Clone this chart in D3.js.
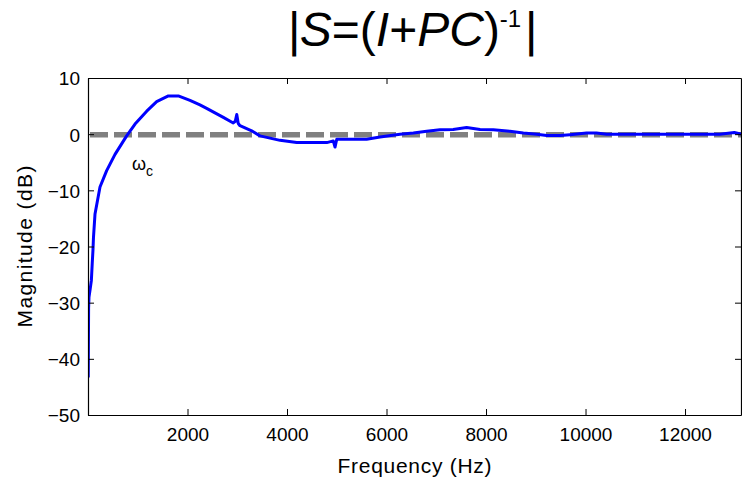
<!DOCTYPE html>
<html>
<head>
<meta charset="utf-8">
<script src="https://cdn.jsdelivr.net/npm/d3@7"></script>
<style>
  html, body { margin: 0; padding: 0; background: #fff; }
  svg { display: block; font-family: "Liberation Sans", Arial, Helvetica, sans-serif; }
</style>
</head>
<body>
<svg id="chart" width="742" height="481"></svg>
<script>
// ---- data ----
const freqHz = [5, 8, 12, 20, 45, 68, 85, 100, 110, 141, 241, 375, 543, 777, 945, 1180, 1380, 1615, 1815,
  2050, 2250, 2385, 2720, 2920, 2960, 2990, 3020, 3055, 3290, 3457, 3860, 4195, 4800, 4930, 4965, 5000,
  5266, 5600, 5870, 6270, 6540, 6808, 7075, 7340, 7610, 7880, 8146, 8480, 8750, 9020, 9220, 9490, 9690,
  10020, 10220, 10425, 10960, 11630, 12290, 12700, 12990, 13125];
const magDb = [-43.3, -38, -31, -29, -27.5, -26, -23, -20.6, -18.4, -14.2, -9.4, -6.5, -3.6, -0.3, 1.8, 4.1, 5.8, 6.8, 6.8,
  6.0, 5.2, 4.6, 3.0, 2.0, 2.3, 3.5, 1.9, 1.5, 0.6, -0.3, -1.1, -1.5, -1.5, -1.2, -2.3, -0.9,
  -0.9, -0.9, -0.5, 0.0, 0.2, 0.5, 0.8, 0.85, 1.2, 0.85, 0.8, 0.5, 0.2, 0.0, -0.25, -0.25, -0.1,
  0.2, 0.2, 0.0, 0.0, 0.0, 0.0, 0.0, 0.3, 0.0];
const refLevelDb = [0];
const xTicks = [2000, 4000, 6000, 8000, 10000, 12000];
const yTicks = [-50, -40, -30, -20, -10, 0, 10];
const xDomain = [0, 13125];
const yDomain = [-50, 10];

// ---- layout ----
const svg = d3.select("#chart");
const L = 88, R = 741, T = 78, B = 415;
const x = d3.scaleLinear().domain(xDomain).range([L, R]);
const y = d3.scaleLinear().domain(yDomain).range([B, T]);

svg.append("clipPath").attr("id", "clip")
  .append("rect").attr("x", L).attr("y", T).attr("width", R - L).attr("height", B - T);

// dashed reference line
svg.append("g").attr("clip-path", "url(#clip)")
  .selectAll("line.ref").data(refLevelDb).join("line")
  .attr("x1", x(xDomain[0]) + 2).attr("x2", R)
  .attr("y1", d => y(d) + 0.6).attr("y2", d => y(d) + 0.6)
  .attr("stroke", "#808080").attr("stroke-width", 5.5)
  .attr("stroke-dasharray", "18,6");

// curve
const pts = freqHz.map((f, i) => [f, magDb[i]]);
svg.append("path").attr("clip-path", "url(#clip)")
  .datum(pts)
  .attr("d", d3.line().x(d => x(d[0])).y(d => y(d[1])))
  .attr("fill", "none").attr("stroke", "#0000ff").attr("stroke-width", 3)
  .attr("stroke-linejoin", "round");

// axes (MATLAB box style, ticks inward)
const tickLen = 6;
const axB = svg.append("g").attr("transform", `translate(0,${B})`)
  .call(d3.axisBottom(x).tickValues(xTicks).tickSizeInner(-tickLen).tickSizeOuter(0).tickFormat(d3.format("d")));
const axT = svg.append("g").attr("transform", `translate(0,${T})`)
  .call(d3.axisTop(x).tickValues(xTicks).tickSizeInner(-tickLen).tickSizeOuter(0).tickFormat(""));
const axL = svg.append("g").attr("transform", `translate(${L},0)`)
  .call(d3.axisLeft(y).tickValues(yTicks).tickSizeInner(-tickLen).tickSizeOuter(0).tickFormat(d3.format("d")));
const axR = svg.append("g").attr("transform", `translate(${R},0)`)
  .call(d3.axisRight(y).tickValues(yTicks).tickSizeInner(-tickLen).tickSizeOuter(0).tickFormat(""));

[axB, axT, axL, axR].forEach(g => {
  g.selectAll("path.domain").attr("stroke", "#000").attr("stroke-width", 1.2);
  g.selectAll(".tick line").attr("stroke", "#000").attr("stroke-width", 1);
  g.selectAll(".tick text").attr("fill", "#000").attr("font-size", 19)
    .attr("font-family", "Liberation Sans, Arial, sans-serif");
});
axB.selectAll(".tick text").attr("y", 13).attr("dy", "0.71em");
axL.selectAll(".tick text").attr("x", -8).attr("dy", "0.36em");

// axis labels
svg.append("text").attr("x", (L + R) / 2).attr("y", 473)
  .attr("text-anchor", "middle").attr("font-size", 21)
  .attr("textLength", 154).attr("lengthAdjust", "spacing").text("Frequency (Hz)");
svg.append("text").attr("transform", `translate(32,${(T + B) / 2}) rotate(-90)`)
  .attr("text-anchor", "middle").attr("font-size", 21)
  .attr("textLength", 162).attr("lengthAdjust", "spacing").text("Magnitude (dB)");

// omega_c annotation
const om = svg.append("text").attr("x", 132).attr("y", 170).attr("font-size", 18);
om.append("tspan").text("ω");
om.append("tspan").attr("font-size", 14).attr("dy", 6).text("c");

// title
const title = svg.append("text").attr("x", 412).attr("y", 46)
  .attr("text-anchor", "middle").attr("font-size", 48);
title.append("tspan").attr("font-style", "italic").text("|S");
title.append("tspan").text("=(");
title.append("tspan").attr("font-style", "italic").text("I");
title.append("tspan").text("+");
title.append("tspan").attr("font-style", "italic").text("PC");
title.append("tspan").text(")");
title.append("tspan").attr("font-size", 24).attr("dy", -19).text("-1");
title.append("tspan").attr("font-style", "italic").attr("dx", 3).attr("dy", 19).text("|");
</script>
</body>
</html>
